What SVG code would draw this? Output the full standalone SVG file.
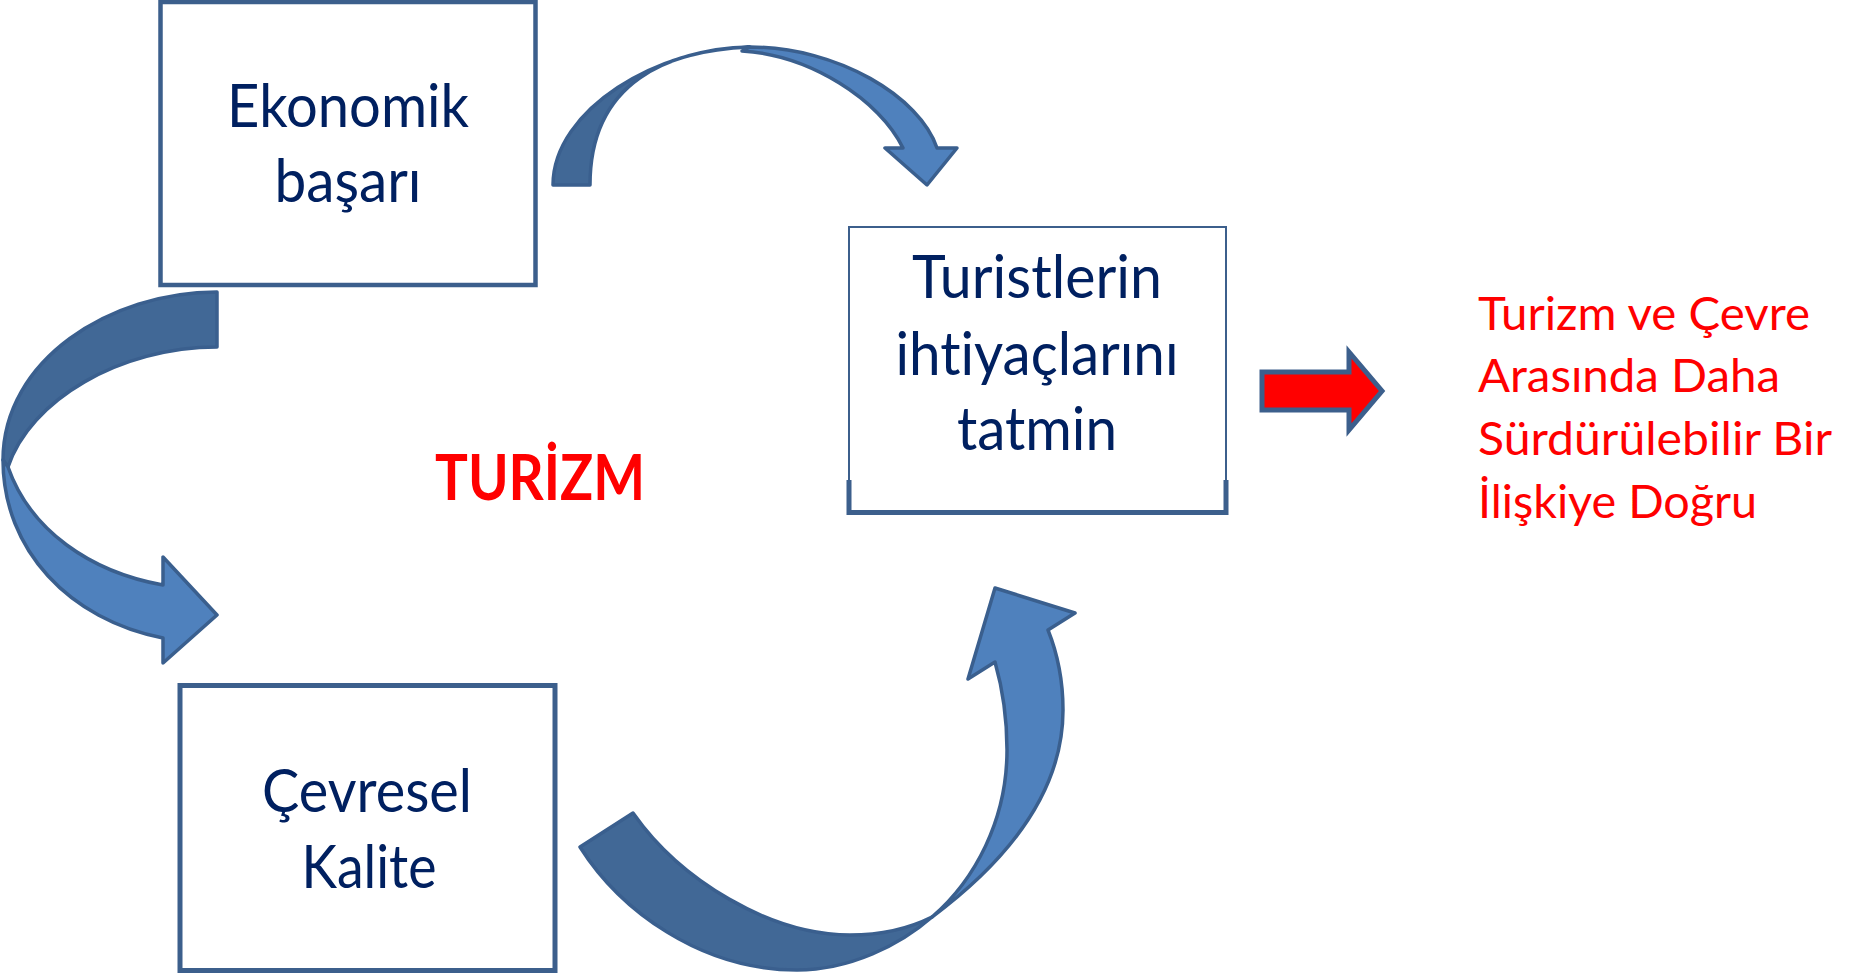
<svg xmlns="http://www.w3.org/2000/svg" width="1868" height="973" viewBox="0 0 1868 973">
<style>
.box{fill:#fff;stroke:#3C5F8C;}
.t{font-family:Lato,"Open Sans","Liberation Sans",sans-serif;fill:#002060;font-size:60px;text-anchor:middle;font-variant-ligatures:none;}
.dark{fill:#416896;stroke:#3A5F8E;stroke-width:3.5;stroke-linejoin:round;}
.light{fill:#4F81BD;stroke:#3A5F8E;stroke-width:3.5;stroke-linejoin:round;}
.red{font-family:Lato,"Open Sans","Liberation Sans",sans-serif;fill:#FF0000;font-variant-ligatures:none;}
</style>
<rect width="1868" height="973" fill="#fff"/>
<g id="connectors">
  <g id="arrow-top">
    <path class="dark" d="M553,185 C553,109 660,47 750,47 C670,50 590,80 590,185 Z"/>
    <path class="light" d="M750,47 C838,47 920,97 937,148 L957,148 L927,185 L885,148 L903,148 C880,100 810,55 742,51 Z"/>
  </g>
  <g id="arrow-left">
    <path class="dark" d="M217,292 C110,292 3,360 3,460 L8,467 C30,400 120,347 217,347 Z"/>
    <path class="light" d="M3,460 C3,550 70,620 163,638 L163,663 L217,615 L163,557 L163,585 C90,572 30,530 8,467 Z"/>
  </g>
  <g id="arrow-bottom">
    <path class="dark" d="M580,847 L633,813 C680,880 770,935 850,935 C885,935 910,928 932,917 C900,945 850,970 797,970 C700,970 620,910 580,847 Z"/>
    <path class="light" d="M932,917 C995,870 1063,800 1063,710 C1063,685 1058,655 1048,630 L1075,613 L995,588 L968,679 L995,662 C1003,690 1007,720 1007,750 C1007,820 975,880 932,917 Z"/>
  </g>
  <g id="arrow-red">
    <path d="M1262,372 H1349 V352 L1382,391 L1349,430 V410 H1262 Z" fill="#FF0000" stroke="#3C5F8C" stroke-width="5"/>
  </g>
</g>
<g id="node-ekonomik">
  <rect class="box" x="160.5" y="2" width="375" height="283" stroke-width="4.5"/>
  <text class="t" x="348" y="127" textLength="242" lengthAdjust="spacingAndGlyphs">Ekonomik</text>
  <text class="t" x="348" y="202" textLength="147" lengthAdjust="spacingAndGlyphs">başarı</text>
</g>
<g id="node-turistler">
  <rect class="box" x="849" y="227" width="377" height="285.5" stroke-width="2"/>
  <path d="M849,480 V512.5 H1226 V480" fill="none" stroke="#3C5F8C" stroke-width="5"/>
  <text class="t" x="1037" y="298" textLength="250" lengthAdjust="spacingAndGlyphs">Turistlerin</text>
  <text class="t" x="1037" y="375" textLength="283" lengthAdjust="spacingAndGlyphs">ihtiyaçlarını</text>
  <text class="t" x="1037" y="450" textLength="160" lengthAdjust="spacingAndGlyphs">tatmin</text>
</g>
<g id="node-cevresel">
  <rect class="box" x="180" y="685.5" width="375" height="285" stroke-width="5"/>
  <text class="t" x="367" y="812" textLength="210" lengthAdjust="spacingAndGlyphs">Çevresel</text>
  <text class="t" x="369" y="888" textLength="135" lengthAdjust="spacingAndGlyphs">Kalite</text>
</g>
<g id="label-turizm">
  <text class="red" x="540" y="500" font-size="63" font-weight="bold" text-anchor="middle" textLength="210" lengthAdjust="spacingAndGlyphs">TURİZM</text>
</g>
<g id="label-right">
  <text class="red" x="1478" y="330" font-size="46" textLength="332" lengthAdjust="spacingAndGlyphs">Turizm ve Çevre</text>
  <text class="red" x="1478" y="392" font-size="46" textLength="302" lengthAdjust="spacingAndGlyphs">Arasında Daha</text>
  <text class="red" x="1478" y="455" font-size="46" textLength="354" lengthAdjust="spacingAndGlyphs">Sürdürülebilir Bir</text>
  <text class="red" x="1478" y="518" font-size="46" textLength="279" lengthAdjust="spacingAndGlyphs">İlişkiye Doğru</text>
</g>
</svg>
